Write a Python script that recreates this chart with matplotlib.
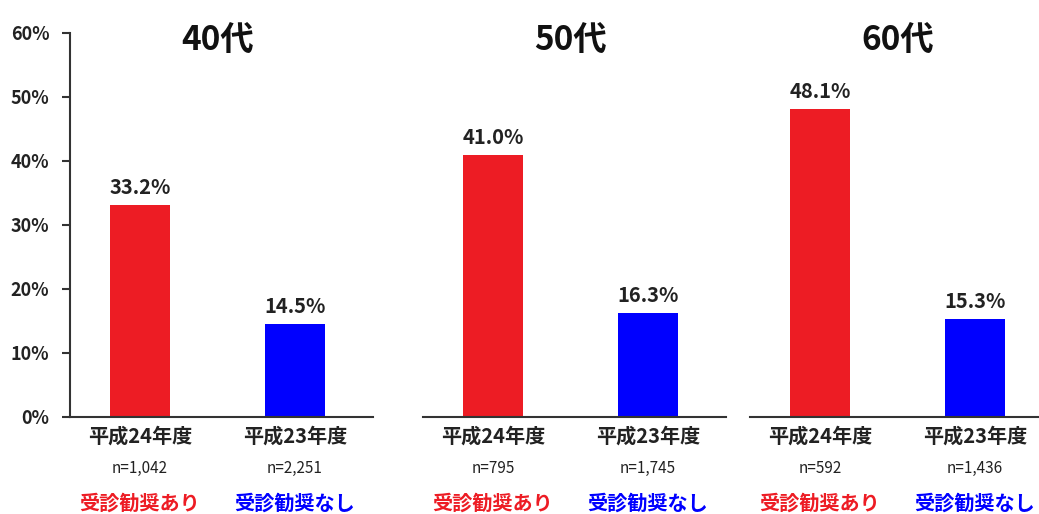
import matplotlib
matplotlib.use("Agg")
import matplotlib.pyplot as plt

plt.rcParams['font.family'] = ['Noto Sans CJK JP', 'DejaVu Sans']

ages = ["40代", "50代", "60代"]
years = ["平成24年度", "平成23年度"]
rates = [[33.2, 14.5], [41.0, 16.3], [48.1, 15.3]]
counts = [["n=1,042", "n=2,251"], ["n=795", "n=1,745"], ["n=592", "n=1,436"]]
groups = ["受診勧奨あり", "受診勧奨なし"]
colors = ["#ed1c24", "#0000ff"]

W, H = 1039, 514
fig = plt.figure(figsize=(W / 100, H / 100), dpi=100)

# px positions of the first bar in each panel
first_bar = [140, 493, 820]
step = 155
xmin, xmax = -0.45, 1.5
y0, y60 = 417, 33

for i, age in enumerate(ages):
    left = first_bar[i] + xmin * step
    ax = fig.add_axes([left / W, (H - y0) / H, (xmax - xmin) * step / W, (y0 - y60) / H])
    x = [0, 1]
    ax.bar(x, rates[i], width=0.39, color=colors, zorder=2)
    ax.set_xlim(xmin, xmax)
    ax.set_ylim(0, 60)
    for s in ["top", "right"]:
        ax.spines[s].set_visible(False)
    ax.spines["bottom"].set_linewidth(1.5)
    ax.spines["bottom"].set_color("#333333")
    if i == 0:
        ax.spines["left"].set_linewidth(1.5)
        ax.spines["left"].set_color("#333333")
        ax.set_yticks(range(0, 61, 10))
        ax.set_yticklabels([f"{v}%" for v in range(0, 61, 10)], fontsize=13, weight="bold", color="#222222")
        ax.tick_params(axis="y", length=6, width=1.5, color="#333333", pad=9)
    else:
        ax.spines["left"].set_visible(False)
        ax.set_yticks([])
    ax.set_xticks(x)
    ax.set_xticklabels(years, fontsize=14.5, weight="bold", color="#222222")
    ax.tick_params(axis="x", length=0, pad=6)

    ax.text(0.5, 58.9, age, ha="center", va="center", fontsize=24, weight="bold", color="#111111")
    for j in range(2):
        ax.annotate(f"{rates[i][j]:.1f}%", (x[j], rates[i][j]), xytext=(0, 5),
                    textcoords="offset points", ha="center", va="bottom",
                    fontsize=14.5, weight="bold", color="#222222")
        ax.text(x[j], -0.133, counts[i][j], transform=ax.get_xaxis_transform(),
                ha="center", va="center", fontsize=11, color="#222222")
        ax.text(x[j], -0.225, groups[j], transform=ax.get_xaxis_transform(),
                ha="center", va="center", fontsize=14.5, weight="bold", color=colors[j])

fig.savefig("out.png", dpi=100)
